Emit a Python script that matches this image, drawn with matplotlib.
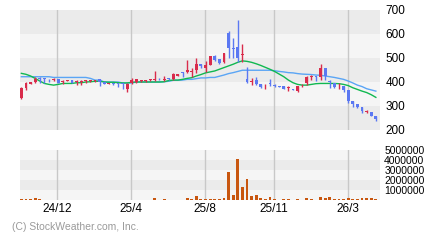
import numpy as np
import matplotlib
matplotlib.use('Agg')
import matplotlib.pyplot as plt

# 週足データ (始値, 高値, 安値, 終値)
opens = [332, 374, 392, 400, 416, 415, 414, 410, 411, 401, 405, 408, 400, 400, 405, 406, 406, 412, 398, 393,
         395, 393, 396, 370, 395, 398, 406, 406, 409, 409, 413, 409, 415, 412, 426, 440, 443, 442, 450, 474,
         457, 471, 508, 494, 484, 603, 541, 547, 512, 412, 400, 408, 392, 390, 393, 386, 382, 383, 376, 370,
         362, 390, 394, 420, 422, 419, 457, 402, 394, 382, 383, 367, 321, 307, 294, 275, 274, 258]
highs = [378, 399, 402, 419, 422, 416, 414, 418, 412, 408, 408, 410, 408, 408, 408, 409, 410, 413, 399, 396,
         396, 394, 397, 395, 415, 412, 410, 410, 412, 446, 415, 425, 417, 439, 434, 443, 492, 457, 498, 476,
         488, 510, 512, 496, 522, 613, 582, 658, 558, 464, 415, 422, 392, 392, 411, 392, 383, 384, 383, 371,
         384, 392, 425, 429, 425, 475, 458, 408, 395, 397, 384, 368, 322, 308, 295, 283, 275, 260]
lows = [329, 367, 390, 394, 394, 397, 401, 405, 396, 392, 404, 394, 388, 387, 394, 402, 402, 383, 391, 390,
        389, 380, 370, 360, 392, 396, 400, 402, 405, 405, 408, 404, 409, 408, 424, 422, 436, 422, 436, 457,
        443, 469, 489, 476, 478, 499, 499, 485, 485, 394, 388, 388, 374, 370, 383, 378, 378, 369, 364, 367,
        360, 381, 388, 408, 405, 408, 408, 374, 374, 369, 360, 311, 297, 293, 272, 270, 258, 239]
closes = [374, 394, 400, 412, 413, 412, 411, 413, 397, 403, 407, 395, 402, 402, 408, 408, 408, 398, 392, 395,
          390, 391, 392, 392, 408, 412, 408, 408, 411, 411, 411, 411, 413, 433, 433, 438, 450, 444, 474, 468,
          471, 508, 492, 478, 520, 541, 539, 499, 514, 401, 402, 392, 381, 392, 391, 384, 380, 370, 378, 368,
          383, 392, 419, 422, 420, 457, 425, 400, 378, 384, 367, 322, 308, 295, 279, 277, 260, 244]

# 移動平均線
ma_short = [436, 432, 425, 415, 404, 394, 390, 387, 390, 394, 394, 394, 397, 397, 400, 401, 403, 403, 400, 399,
            399, 397, 396, 396, 399, 400, 400, 400, 400, 400, 400, 401, 406, 408, 408, 411, 415, 418, 425, 431,
            438, 442, 446, 453, 460, 467, 474, 482, 488, 486, 482, 476, 469, 461, 453, 444, 433, 422, 408, 397,
            390, 387, 387, 390, 393, 394, 394, 394, 394, 393, 390, 385, 376, 369, 362, 356, 347, 336]
ma_long = [422, 422, 422, 422, 422, 422, 422, 419, 419, 419, 419, 419, 419, 419, 419, 415, 408, 408, 400, 400,
           400, 400, 396, 396, 396, 400, 400, 400, 400, 400, 400, 401, 403, 407, 407, 408, 411, 411, 414, 417,
           417, 419, 419, 424, 429, 435, 439, 444, 449, 449, 449, 449, 449, 449, 449, 447, 444, 442, 439, 438,
           435, 433, 432, 431, 429, 428, 425, 422, 419, 415, 411, 404, 396, 387, 381, 372, 367, 362]

# 出来高
volumes = [100000, 100000, 100000, 200000, 100000] + [10000] * 24 + [
    200000, 10000, 100000, 10000, 10000, 10000, 10000, 200000, 100000, 400000, 100000,
    100000, 100000, 100000, 100000, 200000, 2800000, 500000, 4100000, 1300000, 2100000,
    400000, 500000, 200000, 100000, 300000, 100000, 10000, 100000, 100000, 10000,
    100000, 10000, 200000, 100000, 10000, 300000, 200000, 300000, 100000, 100000,
    100000, 200000, 100000, 100000, 200000, 200000, 200000, 100000]

month_labels = ['24/12', '25/4', '25/8', '25/11', '26/3']
month_pos = [7.8, 23.9, 39.9, 54.9, 71.0]

price_ticks = [200, 300, 400, 500, 600, 700]
volume_ticks = [1000000, 2000000, 3000000, 4000000, 5000000]

UP = '#d92b4b'
DOWN = '#5b78f2'
GRID = '#c8c8c8'
DARK = '#ebebeb'
LIGHT = '#f5f5f5'

plt.rcParams['font.family'] = ['Liberation Sans', 'DejaVu Sans']


def draw_bands(ax, edges, first_dark):
    # 背景の縞模様を描く
    for i in range(len(edges) - 1):
        dark = (i % 2 == 0) == first_dark
        ax.axhspan(edges[i], edges[i + 1], color=DARK if dark else LIGHT, lw=0, zorder=0)


def draw_candles(ax, x, o, h, l, c):
    # ローソク足を描く
    o, h, l, c = map(np.asarray, (o, h, l, c))
    colors = np.where(c >= o, UP, DOWN)
    ax.vlines(x, l, h, colors=colors, lw=1.0, zorder=3)
    bottom = np.minimum(o, c)
    height = np.maximum(np.abs(c - o), 3)
    ax.bar(x, height, bottom=bottom, width=0.62, color=colors, lw=0, zorder=4)


fig = plt.figure(figsize=(4.4, 2.4), dpi=100)
fig.patch.set_facecolor('white')

x = np.arange(len(closes))

ax = fig.add_axes([20 / 440, 1 - 130 / 240, 360 / 440, 120 / 240])
draw_bands(ax, price_ticks, first_dark=True)
for p in month_pos:
    ax.axvline(p, color=GRID, lw=1.0, zorder=1)
ax.plot(x, ma_long, color='#5aa5f5', lw=1.0, zorder=2)
ax.plot(x, ma_short, color='#10b850', lw=1.0, zorder=2)
draw_candles(ax, x, opens, highs, lows, closes)
ax.set_xlim(-0.3, 77.9)
ax.set_ylim(200, 700)
ax.set_yticks(price_ticks)
ax.yaxis.tick_right()
ax.tick_params(axis='y', length=0, pad=4, labelsize=8.5)
ax.set_xticks([])
for s in ax.spines.values():
    s.set_visible(False)

vax = fig.add_axes([20 / 440, 1 - 200 / 240, 360 / 440, 50 / 240])
draw_bands(vax, [0] + volume_ticks, first_dark=False)
for p in month_pos:
    vax.axvline(p, color=GRID, lw=1.0, zorder=1)
vax.bar(x, volumes, width=0.62, color='#c8560f', lw=0, zorder=3)
vax.set_xlim(-0.3, 77.9)
vax.set_ylim(0, 5000000)
vax.set_yticks(volume_ticks)
vax.set_yticklabels([str(v) for v in volume_ticks])
vax.yaxis.tick_right()
vax.tick_params(axis='y', length=0, pad=3, labelsize=7.5)
vax.set_xticks(month_pos)
vax.set_xticklabels(month_labels)
vax.tick_params(axis='x', length=0, pad=2, labelsize=8.5)
for s in vax.spines.values():
    s.set_visible(False)

fig.text(12 / 440, 1 - 227 / 240, '(C) StockWeather.com, Inc.', color='#9a9a9a',
         fontsize=7.5, va='center', ha='left')

fig.savefig('out.png', dpi=100)
